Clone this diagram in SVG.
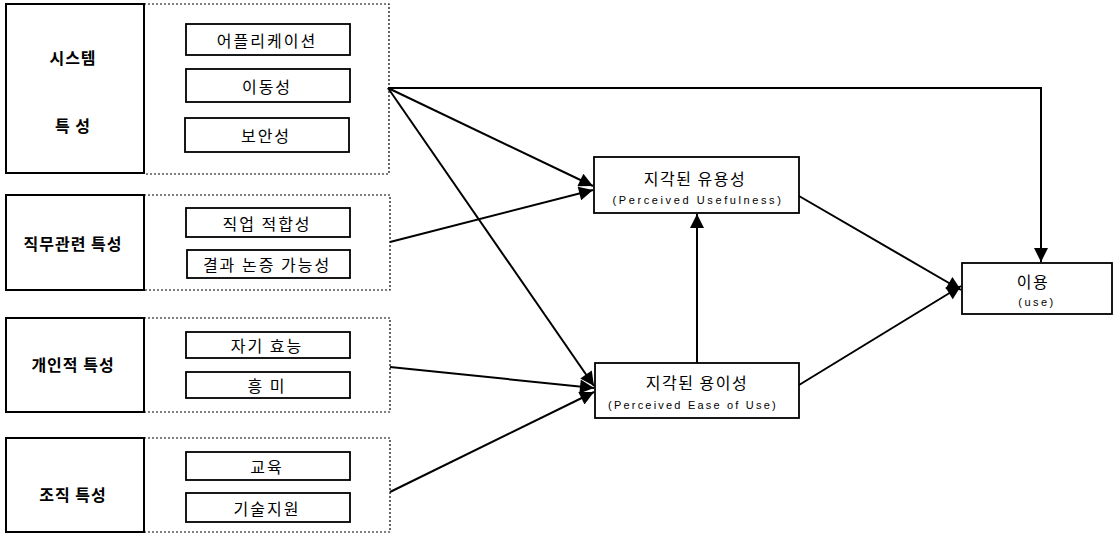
<svg xmlns="http://www.w3.org/2000/svg" width="1114" height="534" viewBox="0 0 1114 534">
<style>
.lbox{fill:#fff;stroke:#000;stroke-width:2}
.dbox{fill:none;stroke:#000;stroke-width:1.2;stroke-dasharray:2 2}
.ibox{fill:#fff;stroke:#000;stroke-width:1.8}
.nbox{fill:#fff;stroke:#000;stroke-width:1.8}
.lt{font-family:"Noto Sans CJK KR","Noto Sans",sans-serif;font-size:16px;font-weight:bold;text-anchor:middle;dominant-baseline:central;letter-spacing:1px}
.it{font-family:"Noto Sans CJK KR","Noto Sans",sans-serif;font-size:16px;text-anchor:middle;dominant-baseline:central;letter-spacing:2px}
.kt{font-family:"Noto Sans CJK KR","Noto Sans",sans-serif;font-size:16px;text-anchor:middle;dominant-baseline:central;letter-spacing:1.5px}
.et{font-family:"Liberation Sans",Arial,sans-serif;font-size:11px;text-anchor:middle;dominant-baseline:central}
.c{stroke:#000;stroke-width:2;fill:none}
</style>
<defs>
<marker id="ah" viewBox="0 0 10 10" refX="10" refY="5" markerWidth="8" markerHeight="7" markerUnits="strokeWidth" orient="auto">
<path d="M0,0 L10,5 L0,10 z" fill="#000"/>
</marker>
</defs>
<rect width="1114" height="534" fill="#fff"/>
<g id="g-system">
<rect class="dbox" x="144" y="4" width="245" height="170"/>
<rect class="lbox" x="6" y="4" width="138" height="169"/>
<text class="lt" x="73" y="57">시스템</text>
<text class="lt" x="73" y="125">특 성</text>
<g id="n-app"><rect class="ibox" x="186" y="24" width="164" height="31"/><text class="it" x="267" y="40">어플리케이션</text></g>
<g id="n-mobility"><rect class="ibox" x="186" y="69" width="164" height="33"/><text class="it" x="267" y="86">이동성</text></g>
<g id="n-security"><rect class="ibox" x="185" y="118" width="164" height="34"/><text class="it" x="266" y="135">보안성</text></g>
</g>
<g id="g-job">
<rect class="dbox" x="144" y="195" width="246" height="95"/>
<rect class="lbox" x="6" y="195" width="138" height="95"/>
<text class="lt" x="73" y="243">직무관련 특성</text>
<g id="n-jobfit"><rect class="ibox" x="186" y="208" width="164" height="29"/><text class="it" x="267" y="223">직업 적합성</text></g>
<g id="n-result"><rect class="ibox" x="187" y="250" width="163" height="28"/><text class="it" x="267" y="264">결과 논증 가능성</text></g>
</g>
<g id="g-personal">
<rect class="dbox" x="144" y="318" width="246" height="94"/>
<rect class="lbox" x="6" y="318" width="138" height="94"/>
<text class="lt" x="73" y="364">개인적 특성</text>
<g id="n-efficacy"><rect class="ibox" x="186" y="332" width="164" height="26"/><text class="it" x="267" y="345">자기 효능</text></g>
<g id="n-interest"><rect class="ibox" x="186" y="372" width="164" height="26"/><text class="it" x="267" y="385">흥 미</text></g>
</g>
<g id="g-org">
<rect class="dbox" x="144" y="438" width="246" height="94"/>
<rect class="lbox" x="6" y="438" width="138" height="94"/>
<text class="lt" x="73" y="494">조직 특성</text>
<g id="n-edu"><rect class="ibox" x="186" y="452" width="164" height="28"/><text class="it" x="267" y="466">교육</text></g>
<g id="n-tech"><rect class="ibox" x="186" y="493" width="164" height="29"/><text class="it" x="267" y="508">기술지원</text></g>
</g>
<g id="n-pu">
<rect class="nbox" x="594" y="157" width="205" height="56"/>
<text class="kt" x="695" y="178">지각된 유용성</text>
<text class="et" x="698" y="200" letter-spacing="2.6">(Perceived Usefulness)</text>
</g>
<g id="n-peou">
<rect class="nbox" x="595" y="363" width="204" height="55"/>
<text class="kt" x="697" y="382">지각된 용이성</text>
<text class="et" x="693" y="405" letter-spacing="2.2">(Perceived Ease of Use)</text>
</g>
<g id="n-use">
<rect class="nbox" x="962" y="263" width="150" height="51"/>
<text class="kt" x="1033" y="281" font-size="18">이용</text>
<text class="et" x="1037" y="302" letter-spacing="2.5">(use)</text>
</g>
<g id="connectors">
<path class="c" d="M388,88 L1041,88 L1041,262" marker-end="url(#ah)"/>
<path class="c" d="M388,88 L593,186" marker-end="url(#ah)"/>
<path class="c" d="M388,88 L594,386" marker-end="url(#ah)"/>
<path class="c" d="M390,242 L593,190" marker-end="url(#ah)"/>
<path class="c" d="M390,367 L594,388" marker-end="url(#ah)"/>
<path class="c" d="M390,492 L594,392" marker-end="url(#ah)"/>
<path class="c" d="M697,363 L697,214" marker-end="url(#ah)"/>
<path class="c" d="M799,196 L961,290" marker-end="url(#ah)"/>
<path class="c" d="M799,385 L961,286" marker-end="url(#ah)"/>
</g>
</svg>
